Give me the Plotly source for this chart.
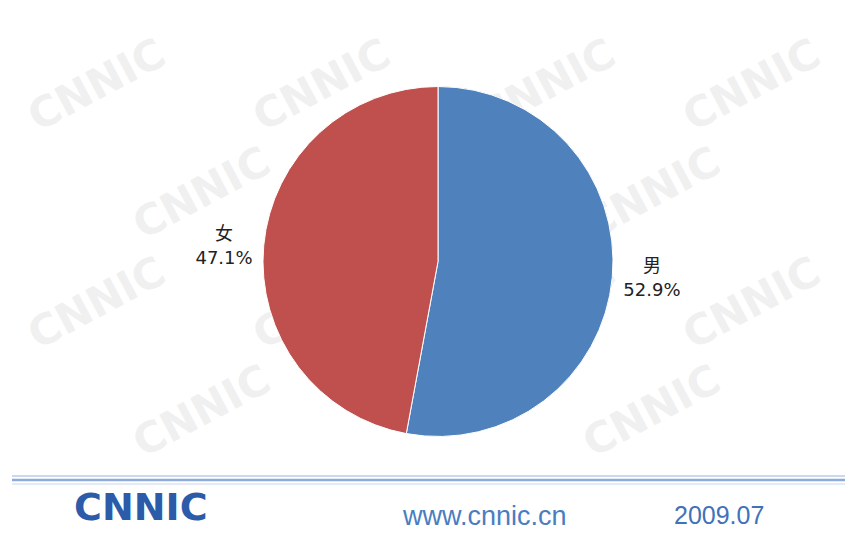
import plotly.graph_objects as go

W, H = 845, 533

labels = ["男", "女"]
values = [52.9, 47.1]
colors = ["#4F81BD", "#C0504D"]

footer_url = "www.cnnic.cn"
footer_date = "2009.07"
logo_text = "CNNIC"

def px(x):
    return x / W

def py(y):
    return 1 - y / H

fig = go.Figure()
fig.add_trace(go.Pie(
    labels=labels,
    values=values,
    sort=False,
    direction="clockwise",
    rotation=0,
    marker=dict(colors=colors, line=dict(color="#ffffff", width=1)),
    texttemplate="%{label}<br>%{percent:.1%}",
    textposition="outside",
    textfont=dict(family="DejaVu Sans, Noto Sans CJK SC, sans-serif", size=18, color="#222222"),
    showlegend=False,
    hoverinfo="label+percent",
    domain=dict(x=[px(263), px(613)], y=[py(437), py(86)]),
))

shapes = []
# watermark grid (decoration, drawn below the pie)
wm_centers = [(95, 82), (320, 82), (545, 82), (750, 82),
              (200, 190), (650, 190),
              (95, 300), (320, 300), (545, 300), (750, 300),
              (200, 408), (650, 408)]
for cx, cy in wm_centers:
    shapes.append(dict(
        type="rect", xref="paper", yref="paper", layer="below",
        x0=px(cx - 85), x1=px(cx + 85), y0=py(cy + 58), y1=py(cy - 58),
        line=dict(width=0), fillcolor="rgba(0,0,0,0)",
        label=dict(text="CNNIC", textangle=-28,
                   font=dict(family="DejaVu Sans", size=42, color="#f0f0f0", weight="bold"),
                   textposition="middle center"),
    ))

# footer lines
for yy, col, wd in [(476, "#c9d9ee", 2), (480, "#8eaadb", 2.5), (484, "#dbe5f1", 1.5)]:
    shapes.append(dict(type="line", xref="paper", yref="paper",
                       x0=px(12), x1=1, y0=py(yy), y1=py(yy),
                       line=dict(color=col, width=wd)))

annotations = [
    dict(text="<b>" + logo_text + "</b>", x=px(72), y=py(507), xref="paper", yref="paper",
         xanchor="left", yanchor="middle", showarrow=False,
         font=dict(family="DejaVu Sans", size=38, color="#2c5ba9")),
    dict(text=footer_url, x=px(400), y=py(516), xref="paper", yref="paper",
         xanchor="left", yanchor="middle", showarrow=False,
         font=dict(family="Liberation Sans, sans-serif", size=27, color="#4a7dbf")),
    dict(text=footer_date, x=px(672), y=py(515), xref="paper", yref="paper",
         xanchor="left", yanchor="middle", showarrow=False,
         font=dict(family="Liberation Sans, sans-serif", size=25, color="#3f72b8")),
]

fig.update_layout(
    width=W, height=H,
    margin=dict(l=0, r=0, t=0, b=0),
    paper_bgcolor="#ffffff",
    plot_bgcolor="#ffffff",
    shapes=shapes,
    annotations=annotations,
)

fig.write_html("out.html")
